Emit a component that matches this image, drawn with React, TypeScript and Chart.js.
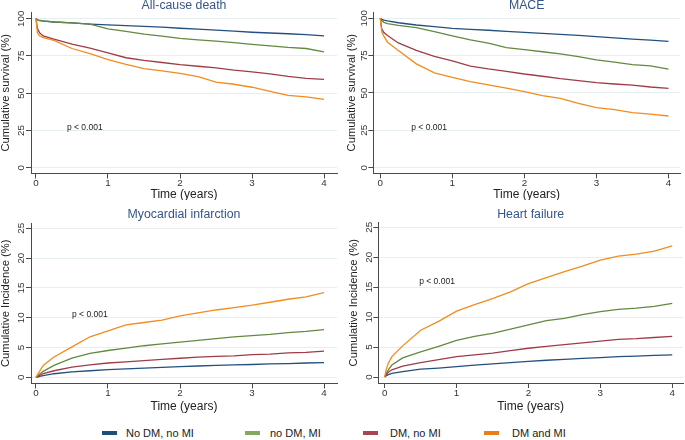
import React, { useEffect, useRef } from 'react';
import { Chart, registerables } from 'chart.js';

Chart.register(...registerables);

// ---------- data ----------
const TIMES = [0, 0.02, 0.05, 0.1, 0.25, 0.5, 0.75, 1, 1.25, 1.5, 1.75, 2, 2.25, 2.5, 2.75, 3, 3.25, 3.5, 3.75, 4];

const SERIES_NAMES = ['No DM, no MI', 'no DM, MI', 'DM, no MI', 'DM and MI'];

// All-cause death (cumulative survival, %)
const DEATH_NODM_NOMI = [100, 99.3, 98.8, 98.5, 97.8, 97.2, 96.4, 95.8, 95.3, 94.8, 94.3, 93.6, 93.0, 92.3, 91.6, 90.9, 90.4, 89.9, 89.3, 88.5];
const DEATH_NODM_MI = [100, 99.3, 98.8, 98.4, 97.8, 97.2, 96.4, 93.2, 91.5, 89.7, 88.3, 86.8, 85.8, 85.0, 84.0, 82.8, 81.8, 80.7, 80.0, 77.8];
const DEATH_DM_NOMI = [100, 93.5, 90.5, 88.4, 86.3, 83.0, 80.3, 77.0, 73.8, 72.0, 70.6, 69.2, 68.1, 67.0, 65.5, 64.3, 63.0, 61.3, 60.0, 59.3];
const DEATH_DM_MI = [100, 90.5, 88.5, 87.3, 85.5, 80.0, 76.5, 72.5, 69.3, 66.5, 65.0, 63.3, 61.2, 57.5, 56.0, 54.0, 51.3, 48.5, 47.5, 45.9];

// MACE (cumulative survival, %)
const MACE_NODM_NOMI = [100, 99.3, 98.7, 98.2, 97.0, 95.5, 94.4, 93.3, 92.6, 92.0, 91.3, 90.6, 89.9, 89.2, 88.5, 87.7, 86.9, 86.1, 85.4, 84.6];
const MACE_NODM_MI = [100, 98.5, 97.3, 96.4, 95.2, 93.8, 91.0, 88.2, 85.5, 83.3, 80.3, 79.0, 77.6, 76.2, 74.3, 72.1, 70.7, 69.0, 68.2, 66.0];
const MACE_DM_NOMI = [100, 93.0, 90.5, 88.5, 83.5, 78.5, 74.5, 71.5, 68.0, 66.1, 64.5, 62.7, 61.2, 59.6, 58.3, 56.9, 56.0, 55.2, 54.0, 53.1];
const MACE_DM_MI = [100, 91.0, 88.0, 84.0, 78.5, 69.5, 63.5, 60.5, 57.6, 55.4, 53.2, 50.9, 48.3, 46.4, 43.0, 40.2, 38.8, 36.8, 35.8, 34.6];

// Myocardial infarction (cumulative incidence, %)
const MI_NODM_NOMI = [0, 0.05, 0.15, 0.3, 0.6, 0.9, 1.1, 1.3, 1.4, 1.55, 1.65, 1.8, 1.9, 2.0, 2.1, 2.15, 2.25, 2.3, 2.4, 2.45];
const MI_NODM_MI = [0, 0.2, 0.5, 1.0, 2.0, 3.2, 4.0, 4.5, 4.9, 5.3, 5.6, 5.9, 6.2, 6.5, 6.8, 7.0, 7.2, 7.5, 7.7, 8.0];
const MI_DM_NOMI = [0, 0.1, 0.3, 0.6, 1.1, 1.7, 2.1, 2.4, 2.6, 2.8, 3.0, 3.2, 3.4, 3.5, 3.6, 3.8, 3.9, 4.1, 4.2, 4.4];
const MI_DM_MI = [0, 0.4, 1.0, 2.0, 3.4, 5.1, 6.8, 7.8, 8.8, 9.2, 9.6, 10.3, 10.8, 11.3, 11.7, 12.1, 12.6, 13.1, 13.5, 14.2];

// Heart failure (cumulative incidence, %)
const HF_NODM_NOMI = [0, 0.2, 0.4, 0.6, 0.9, 1.3, 1.5, 1.75, 2.0, 2.2, 2.4, 2.6, 2.8, 2.95, 3.1, 3.25, 3.4, 3.5, 3.6, 3.7];
const HF_NODM_MI = [0, 0.6, 1.2, 2.0, 3.2, 4.2, 5.1, 6.1, 6.8, 7.3, 8.0, 8.7, 9.4, 9.8, 10.4, 10.9, 11.3, 11.5, 11.8, 12.3];
const HF_DM_NOMI = [0, 0.4, 0.8, 1.2, 1.8, 2.4, 2.9, 3.4, 3.7, 4.0, 4.4, 4.8, 5.1, 5.4, 5.7, 6.0, 6.3, 6.4, 6.6, 6.8];
const HF_DM_MI = [0, 1.2, 2.3, 3.4, 5.2, 7.8, 9.3, 11.0, 12.1, 13.1, 14.2, 15.6, 16.6, 17.6, 18.5, 19.5, 20.2, 20.5, 21.0, 21.9];

const TIME_TICKS = [0, 1, 2, 3, 4];
const SURVIVAL_TICKS = [0, 25, 50, 75, 100];
const INCIDENCE_TICKS = [0, 5, 10, 15, 20, 25];

const P_TEXT = 'p < 0.001';

// ---------- styles ----------
const FONT = "'Liberation Sans', Arial, Helvetica, sans-serif";
const LINE_COLORS = ['#24507f', '#628a40', '#9e3d48', '#f28c1e'];
const LEGEND_COLORS = ['#1f4e79', '#86a865', '#a84550', '#e8801a'];
const AXIS_COLOR = '#4a4a4a';
const TICK_COLOR = '#333333';
const TEXT_COLOR = '#222222';
const TITLE_COLOR = '#35558a';
const GRID_COLOR = '#e6eef0';

type PanelProps = {
  left: number; top: number; width: number; height: number;
  title: string; yTitle: string; series: number[][]; yTicks: number[];
  xMin: number; xMax: number; yMin: number; yMax: number;
  padTop: number; padRight: number; yAxisW: number; xAxisH: number;
  titleY: number; yTitlePad: number; xTitlePad: number;
  pX: number; pY: number;
};

function Panel(p: PanelProps) {
  const ref = useRef<HTMLCanvasElement>(null);
  useEffect(() => {
    const canvas = ref.current;
    if (!canvas) return;
    const annot = {
      id: 'annot',
      afterDraw(chart: any) {
        const ctx = chart.ctx;
        const { left, right } = chart.chartArea;
        const xs = chart.scales.x;
        const ys = chart.scales.y;
        ctx.save();
        // panel title
        ctx.font = `12.3px ${FONT}`;
        ctx.fillStyle = TITLE_COLOR;
        ctx.textAlign = 'center';
        ctx.textBaseline = 'middle';
        ctx.fillText(p.title, (left + right) / 2, p.titleY);
        // rotated y tick labels
        ctx.font = `9.8px ${FONT}`;
        ctx.fillStyle = TICK_COLOR;
        for (const v of p.yTicks) {
          const y = ys.getPixelForValue(v);
          ctx.save();
          ctx.translate(left - 9.5, y);
          ctx.rotate(-Math.PI / 2);
          ctx.fillText(String(v), 0, 0);
          ctx.restore();
        }
        // p-value
        ctx.font = `8.5px ${FONT}`;
        ctx.fillStyle = TEXT_COLOR;
        ctx.textAlign = 'left';
        ctx.fillText(P_TEXT, xs.getPixelForValue(p.pX), ys.getPixelForValue(p.pY));
        ctx.restore();
      },
    };
    const chart = new Chart(canvas, {
      type: 'line',
      data: {
        datasets: p.series.map((vals, i) => ({
          label: SERIES_NAMES[i],
          data: TIMES.map((t, j) => ({ x: t, y: vals[j] })),
          borderColor: LINE_COLORS[i],
          backgroundColor: LINE_COLORS[i],
          borderWidth: 1.3,
          pointRadius: 0,
          tension: 0,
          fill: false,
          order: 3 - i,
        })),
      },
      options: {
        responsive: false,
        animation: false,
        devicePixelRatio: 1,
        events: [],
        layout: { padding: { top: p.padTop, right: p.padRight, left: 0, bottom: 0 } },
        plugins: {
          legend: { display: false },
          tooltip: { enabled: false },
          title: { display: false },
        },
        scales: {
          x: {
            type: 'linear',
            min: p.xMin,
            max: p.xMax,
            afterBuildTicks: (s: any) => { s.ticks = TIME_TICKS.map((v) => ({ value: v })); },
            afterFit: (s: any) => { s.height = p.xAxisH; s.paddingLeft = 0; s.paddingRight = 0; },
            grid: { drawOnChartArea: false, drawTicks: true, tickLength: 5, color: AXIS_COLOR, tickColor: AXIS_COLOR },
            border: { display: true, color: AXIS_COLOR, width: 1 },
            ticks: {
              padding: 0, color: TICK_COLOR, autoSkip: false, maxRotation: 0, minRotation: 0,
              font: { family: FONT, size: 9.8, weight: 'normal', lineHeight: 1 },
            },
            title: {
              display: true, text: 'Time (years)', color: TEXT_COLOR,
              font: { family: FONT, size: 12, weight: 'normal', lineHeight: 1 },
              padding: { top: 0, bottom: p.xTitlePad },
            },
          },
          y: {
            type: 'linear',
            min: p.yMin,
            max: p.yMax,
            afterBuildTicks: (s: any) => { s.ticks = p.yTicks.map((v) => ({ value: v })); },
            afterFit: (s: any) => { s.width = p.yAxisW; s.paddingTop = 0; s.paddingBottom = 0; },
            grid: { drawOnChartArea: true, drawTicks: true, tickLength: 5, color: GRID_COLOR, tickColor: AXIS_COLOR, lineWidth: 1 },
            border: { display: true, color: AXIS_COLOR, width: 1 },
            ticks: { display: false },
            title: {
              display: true, text: p.yTitle, color: TEXT_COLOR,
              font: { family: FONT, size: 11.2, weight: 'normal', lineHeight: 1 },
              padding: { top: p.yTitlePad, bottom: 0 },
            },
          },
        },
      } as any,
      plugins: [annot],
    });
    return () => chart.destroy();
  }, []);
  return (
    <canvas
      ref={ref}
      width={p.width}
      height={p.height}
      style={{ position: 'absolute', left: p.left, top: p.top, width: p.width, height: p.height }}
    />
  );
}

const LEGEND_POS = [
  { sw: 102, tx: 126 },
  { sw: 245, tx: 270 },
  { sw: 363, tx: 390 },
  { sw: 484, tx: 512 },
];

export default function App() {
  return (
    <div style={{ position: 'absolute', left: 0, top: 0, width: 685, height: 440, background: '#ffffff', overflow: 'hidden' }}>
      <Panel
        left={0} top={0} width={340} height={200}
        title="All-cause death" yTitle="Cumulative survival (%)"
        series={[DEATH_NODM_NOMI, DEATH_NODM_MI, DEATH_DM_NOMI, DEATH_DM_MI]}
        yTicks={SURVIVAL_TICKS}
        xMin={-0.069} xMax={4.18} yMin={-3.9} yMax={104.5}
        padTop={12} padRight={3} yAxisW={31} xAxisH={26.5}
        titleY={5.5} yTitlePad={0} xTitlePad={-1}
        pX={0.43} pY={26.8}
      />
      <Panel
        left={340} top={0} width={345} height={200}
        title="MACE" yTitle="Cumulative survival (%)"
        series={[MACE_NODM_NOMI, MACE_NODM_MI, MACE_DM_NOMI, MACE_DM_MI]}
        yTicks={SURVIVAL_TICKS}
        xMin={-0.097} xMax={4.16} yMin={-3.75} yMax={104.2}
        padTop={12} padRight={5} yAxisW={33.3} xAxisH={26.7}
        titleY={5.5} yTitlePad={6} xTitlePad={-1}
        pX={0.43} pY={26.8}
      />
      <Panel
        left={0} top={200} width={340} height={220}
        title="Myocardial infarction" yTitle="Cumulative Incidence (%)"
        series={[MI_NODM_NOMI, MI_NODM_MI, MI_DM_NOMI, MI_DM_MI]}
        yTicks={INCIDENCE_TICKS}
        xMin={-0.069} xMax={4.18} yMin={-1.04} yMax={25.9}
        padTop={23} padRight={3} yAxisW={31} xAxisH={36.5}
        titleY={15} yTitlePad={0} xTitlePad={7}
        pX={0.5} pY={10.45}
      />
      <Panel
        left={340} top={200} width={345} height={220}
        title="Heart failure" yTitle="Cumulative Incidence (%)"
        series={[HF_NODM_NOMI, HF_NODM_MI, HF_DM_NOMI, HF_DM_MI]}
        yTicks={INCIDENCE_TICKS}
        xMin={-0.089} xMax={4.15} yMin={-1.0} yMax={25.83}
        padTop={22.3} padRight={2} yAxisW={38.3} xAxisH={37}
        titleY={15} yTitlePad={8} xTitlePad={7}
        pX={0.48} pY={15.9}
      />
      {SERIES_NAMES.map((name, i) => (
        <React.Fragment key={name}>
          <div style={{ position: 'absolute', left: LEGEND_POS[i].sw, top: 431, width: 15, height: 4, background: LEGEND_COLORS[i] }} />
          <div style={{ position: 'absolute', left: LEGEND_POS[i].tx, top: 426, height: 14, lineHeight: '14px', fontFamily: FONT, fontSize: 11, color: TEXT_COLOR, whiteSpace: 'nowrap' }}>{name}</div>
        </React.Fragment>
      ))}
    </div>
  );
}
